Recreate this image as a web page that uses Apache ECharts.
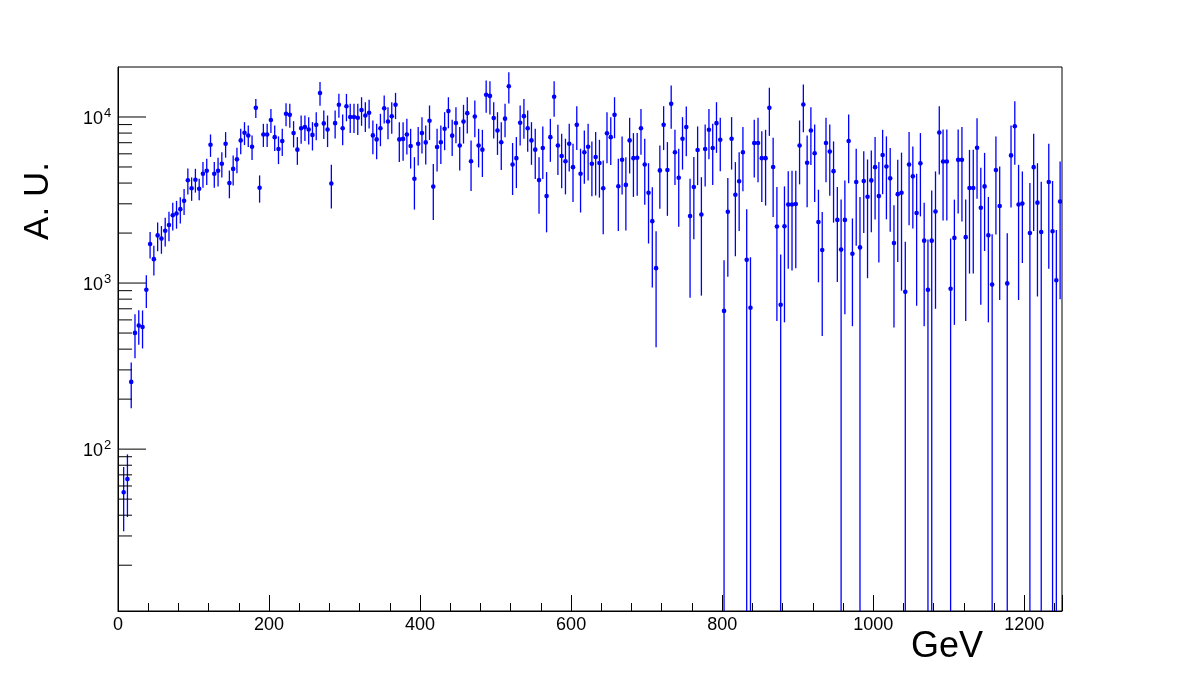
<!DOCTYPE html>
<html>
<head>
<meta charset="utf-8">
<title>A. U. vs GeV</title>
<script src="https://cdn.jsdelivr.net/npm/echarts@6/dist/echarts.min.js"></script>
<style>
  html, body { margin: 0; padding: 0; background: #fff; }
  #chart { width: 1182px; height: 680px; }
</style>
</head>
<body>
<div id="chart"></div>
<script>
// histogram: 250 bins of 5 GeV from 0 to 1250
const binWidth = 5
const xRange = [0, 1250]
const yRange = [10.6, 20000]

// bin contents (null = empty bin)
const counts = [
  null, 55, 66, 254, 501, 555, 544, 911, 1718, 1393,
  1936, 1853, 2067, 2238, 2561, 2625, 2786, 3126, 4160, 3726,
  4190, 3700, 4550, 4750, 6800, 4550, 4750, 5230, 6900, 4000,
  4870, 5560, 7230, 8040, 7740, 6620, 11350, 3750, 7850, 7850,
  9600, 7560, 6420, 7160, 10450, 10300, 8000, 6360, 8560, 8690,
  8400, 7800, 8970, 13950, 9150, 8400, 3980, 9180, 11840, 8560,
  11600, 10000, 10000, 9900, 11000, 10200, 10600, 7750, 7330, 8560,
  11300, 9400, 10100, 11840, 7330, 7380, 7850, 6690, 4250, 6900,
  8000, 7030, 9500, 3810, 6590, 7050, 8500, 10850, 7720, 9210,
  6730, 9380, 10550, 5410, 10060, 6730, 6360, 13600, 13400, 9850,
  8300, 7050, 9770, 15330, 5180, 5650, 9230, 10120, 8560, 7230,
  6360, 4170, 6500, 3340, 7560, 13230, 6730, 5820, 5410, 6900,
  4990, 8970, 4550, 6130, 6620, 5230, 5740, 5280, 3720, 7980,
  7560, 10300, 3830, 5530, 3900, 7230, 5650, 5680, 8560, 5180,
  3500, 2360, 1230, 4770, 8970, 4800, 12000, 6130, 4310, 7400,
  8690, 2530, 3785, 6330, 2590, 6420, 8380, 6500, 9180, 7300,
  680, 2690, 7400, 3400, 4100, 6130, 1380, 710, 6970, 6970,
  5650, 5650, 11350, 5000, 2190, 740, 2200, 2970, 2970, 2990,
  6730, 11900, 5300, 8300, 6050, 2330, 1580, 6970, 6190, 4720,
  2400, 1590, 2400, 7170, 1500, 4060, 1640, 4110, 3310, 4150,
  4990, 3340, 5900, 5030, 4270, 1740, 3430, 3500, 885, 5170,
  4390, 2640, 5260, 1800, 910, 1800, 2700, 8060, 5400, 5400,
  925, 1870, 5520, 5520, 1890, 3740, 3740, 6530, 2840, 3820,
  1940, 980, 4800, 2910, null, 995, 5870, 8800, 2970, 3010,
  null, 2000, 4990, 3050, 2030, null, 4060, 2050, 1040, 3100
]

// symmetric bin errors
const errors = [
  null, 23, 27, 78, 149, 130, 140, 203, 310, 282,
  381, 352, 405, 454, 488, 500, 500, 560, 740, 600,
  685, 545, 800, 850, 1050, 800, 930, 910, 1210, 760,
  1000, 970, 1260, 1270, 1150, 1120, 1500, 700, 1250, 1250,
  1590, 1330, 1220, 1330, 1660, 1700, 1440, 1210, 1650, 1520,
  1580, 1510, 1720, 2270, 1790, 1810, 1170, 1760, 1940, 1790,
  2180, 2000, 2000, 2100, 2150, 2080, 2080, 1780, 1770, 1890,
  2160, 2060, 2180, 2130, 1980, 1930, 1900, 1800, 1480, 1790,
  1980, 1860, 2230, 1410, 1900, 1840, 2190, 2300, 1900, 2250,
  1960, 2460, 2600, 1820, 2500, 1760, 2010, 3000, 3040, 2430,
  2390, 2260, 2230, 3290, 1790, 1920, 2500, 2730, 2380, 2080,
  2130, 1560, 2270, 1320, 2190, 3210, 2250, 2100, 1990, 2200,
  1910, 2650, 1890, 2170, 2480, 1900, 2370, 2010, 1750, 2710,
  2420, 2850, 1770, 2110, 1830, 2660, 2350, 2320, 2630, 2220,
  1770, 1420, 820, 1970, 2650, 2260, 3490, 2240, 2130, 2580,
  2880, 1715, 1950, 2440, 1750, 2600, 2810, 2600, 3100, 2590,
  690, 1600, 2580, 1950, 2040, 2560, 1400, 720, 2650, 2920,
  2570, 2720, 3650, 2500, 1600, 745, 1620, 1750, 1780, 1760,
  2800, 3800, 2440, 3160, 2970, 1320, 1100, 2920, 2830, 2410,
  1385, 1600, 1750, 3180, 950, 2380, 1660, 2110, 2240, 2130,
  2580, 2010, 2470, 2610, 2230, 1200, 2090, 2600, 890, 2940,
  2260, 1910, 2740, 1250, 920, 1810, 2000, 3560, 3020, 3020,
  930, 1310, 2900, 3170, 1300, 2600, 2600, 3310, 2100, 2260,
  1360, 985, 2840, 2120, null, 1000, 3020, 3650, 2180, 1690,
  null, 2010, 2930, 2220, 2040, null, 2840, 2060, 1050, 2300
]

const yMajorTicks = [100, 1000, 10000]
const yMinorTicks = [
  20, 30, 40, 50, 60, 70, 80, 90,
  200, 300, 400, 500, 600, 700, 800, 900,
  2000, 3000, 4000, 5000, 6000, 7000, 8000, 9000
]

const font = 'Liberation Sans, Arial, Helvetica, sans-serif'
const blue = '#0000ff'

const points = []
counts.forEach((c, i) => {
  if (c == null) return
  points.push([xRange[0] + binWidth * i + binWidth / 2, c, errors[i]])
})

// [x, value, tick length, 1 = labelled]
const tickData = yMajorTicks.map((t) => [xRange[0], t, 28, 1])
  .concat(yMinorTicks.map((t) => [xRange[0], t, 14, 0]))

const chart = echarts.init(document.getElementById('chart'), null, { renderer: 'canvas' })

chart.setOption({
  animation: false,
  backgroundColor: '#ffffff',
  grid: {
    left: 118, right: 120, top: 67, bottom: 69,
    show: true, borderColor: '#000', borderWidth: 1
  },
  xAxis: {
    type: 'value',
    min: xRange[0],
    max: xRange[1],
    interval: 200,
    axisLine: { show: true, onZero: false, lineStyle: { color: '#000', width: 1 } },
    axisTick: { show: true, inside: true, length: 16, lineStyle: { color: '#000' } },
    minorTick: { show: true, splitNumber: 5, length: 8, lineStyle: { color: '#000' } },
    splitLine: { show: false },
    axisLabel: {
      color: '#000', fontSize: 18, fontFamily: font, margin: 5,
      showMaxLabel: false,
      formatter: (v) => String(v)
    }
  },
  yAxis: {
    type: 'log',
    logBase: 10,
    min: yRange[0],
    max: yRange[1],
    axisLine: { show: true, lineStyle: { color: '#000', width: 1 } },
    axisTick: { show: false },
    splitLine: { show: false },
    axisLabel: { show: false }
  },
  graphic: [
    {
      type: 'text',
      x: 38, y: 201,
      rotation: Math.PI / 2,
      style: {
        text: 'A. U.', fill: '#000', font: '35px ' + font,
        textAlign: 'center', textVerticalAlign: 'middle'
      }
    },
    {
      type: 'text',
      x: 947, y: 647,
      style: {
        text: 'GeV', fill: '#000', font: '36px ' + font,
        textAlign: 'center', textVerticalAlign: 'middle'
      }
    }
  ],
  series: [
    {
      name: 'hist',
      type: 'custom',
      clip: true,
      silent: true,
      data: points,
      encode: { x: 0, y: 1 },
      renderItem: (params, api) => {
        const x = api.value(0)
        const v = api.value(1)
        const e = api.value(2)
        const lo = Math.max(v - e, 1)
        const c = api.coord([x, v])
        const top = api.coord([x, v + e])
        const bot = api.coord([x, lo])
        return {
          type: 'group',
          children: [
            {
              type: 'line',
              shape: { x1: c[0], y1: top[1], x2: c[0], y2: bot[1] },
              style: { stroke: blue, lineWidth: 1.3 }
            },
            {
              type: 'circle',
              shape: { cx: c[0], cy: c[1], r: 2.3 },
              style: { fill: blue }
            }
          ]
        }
      }
    },
    {
      name: 'yticks',
      type: 'custom',
      silent: true,
      clip: false,
      data: tickData,
      encode: { x: 0, y: 1 },
      renderItem: (params, api) => {
        const v = api.value(1)
        const p = api.coord([api.value(0), v])
        const len = api.value(2)
        const children = [{
          type: 'line',
          shape: { x1: p[0], y1: p[1], x2: p[0] + len, y2: p[1] },
          style: { stroke: '#000', lineWidth: 1 }
        }]
        if (api.value(3) === 1) {
          const n = Math.round(Math.log10(v))
          children.push({
            type: 'text',
            x: p[0] - 15, y: p[1] + 2,
            style: { text: '10', font: '18px ' + font, fill: '#000', align: 'right', verticalAlign: 'middle' }
          })
          children.push({
            type: 'text',
            x: p[0] - 14, y: p[1] - 10,
            style: { text: String(n), font: '13px ' + font, fill: '#000', align: 'left', verticalAlign: 'top' }
          })
        }
        return { type: 'group', children: children }
      }
    }
  ]
})
</script>
</body>
</html>
